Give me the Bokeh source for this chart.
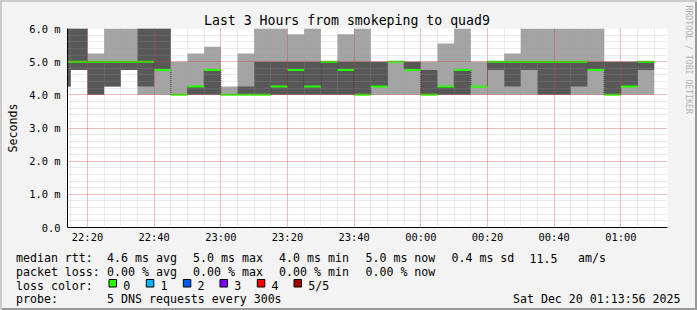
import math
from datetime import datetime, timedelta
from bokeh.plotting import figure
from bokeh.layouts import column, row
from bokeh.models import (Range1d, FixedTicker, CustomJSTickFormatter, Label,
                          ColumnDataSource)
from bokeh.embed import file_html
from bokeh.resources import INLINE

# ---------------- data (ms) ----------------
step_start = ["22:10", "22:15", "22:20", "22:25", "22:30", "22:35", "22:40", "22:45",
              "22:50", "22:55", "23:00", "23:05", "23:10", "23:15", "23:20", "23:25",
              "23:30", "23:35", "23:40", "23:45", "23:50", "23:55", "00:00", "00:05",
              "00:10", "00:15", "00:20", "00:25", "00:30", "00:35", "00:40", "00:45",
              "00:50", "00:55", "01:00", "01:05"]
# sorted pings per step: ping1 = min ... ping3 = median ... ping5 = max
ping1 = [4.25, 4.75, 4.0, 4.25, 4.75, 4.0, 4.0, 4.0, 4.0, 4.0, 4.0, 4.0, 4.0, 4.0, 4.0, 4.0,
         4.0, 4.0, 4.0, 4.0, 4.0, 4.0, 4.0, 4.0, 4.0, 4.0, 4.0, 4.0, 4.0, 4.0, 4.0, 4.0,
         4.0, 4.0, 4.0, 4.0]
ping2 = [4.25, 4.75, 4.0, 4.25, 4.75, 4.25, 4.75, 4.0, 4.0, 4.0, 4.0, 4.0, 4.0, 4.0, 4.0, 4.0,
         4.0, 4.0, 4.0, 4.25, 5.0, 4.75, 4.0, 4.0, 4.0, 4.25, 4.75, 4.25, 4.75, 4.0, 4.0, 4.25,
         4.75, 4.0, 4.25, 4.75]
ping3 = [5.0, 5.0, 5.0, 5.0, 5.0, 5.0, 4.75, 4.0, 4.25, 4.75, 4.0, 4.0, 4.0, 4.25, 4.75, 4.25,
         5.0, 4.75, 4.0, 4.25, 5.0, 4.75, 4.0, 4.25, 4.75, 4.25, 5.0, 5.0, 5.0, 5.0, 5.0, 5.0,
         4.75, 4.0, 4.25, 5.0]
ping4 = [6.0, 6.0, 5.0, 5.0, 5.0, 6.0, 6.0, 4.0, 4.25, 4.75, 4.0, 4.25, 5.0, 5.0, 5.0, 5.0,
         5.0, 5.0, 5.0, 5.0, 5.0, 5.0, 4.75, 4.25, 4.75, 4.25, 5.0, 5.0, 5.0, 5.0, 5.0, 5.0,
         5.0, 5.0, 5.0, 5.0]
ping5 = [6.0, 6.0, 5.25, 6.0, 6.0, 6.0, 6.0, 5.0, 5.25, 5.45, 4.25, 5.25, 6.0, 6.0, 5.83, 6.0,
         5.0, 5.83, 6.0, 5.0, 5.0, 5.0, 5.0, 5.55, 6.0, 5.0, 5.0, 5.25, 6.0, 6.0, 6.0, 6.0,
         6.0, 5.0, 5.0, 5.0]

y_ticks = [0, 1, 2, 3, 4, 5, 6]
x_major = ["22:20", "22:40", "23:00", "23:20", "23:40", "00:00", "00:20", "00:40", "01:00"]

loss_labels = ["0", "1", "2", "3", "4", "5/5"]
loss_colors = ["#26ff00", "#00b8ff", "#0059ff", "#7e00ff", "#ff0000", "#a10000"]

legend_rows = [
    ["median rtt:", "4.6 ms avg", "5.0 ms max", "4.0 ms min", "5.0 ms now", "0.4 ms sd", "11.5", "am/s"],
    ["packet loss:", "0.00 % avg", "0.00 % max", "0.00 % min", "0.00 % now"],
]
probe_text = ["probe:", "5 DNS requests every 300s"]
stamp = "Sat Dec 20 01:13:56 2025"
title_text = "Last 3 Hours from smokeping to quad9"
watermark = "RRDTOOL / TOBI OETIKER"


def t(hm):
    h, m = map(int, hm.split(":"))
    return datetime(2025, 12, 19 if h >= 12 else 20, h, m)


starts = [t(s) for s in step_start]
ends = [s + timedelta(minutes=5) for s in starts]
xs = starts + [ends[-1]]
ext = lambda a: a + [a[-1]]
EPOCH = datetime(1970, 1, 1)
ms = lambda d: (d - EPOCH).total_seconds() * 1000

# ---------------- sizes ----------------
W, H = 697, 310
WM = 680            # width of the main + legend column; the rest is the watermark strip
H1, H2 = 245, 65
MONO = "DejaVu Sans Mono"
BG = "#f3f3f3"

# ---------------- main figure ----------------
p = figure(width=WM, height=H1, output_backend="svg", toolbar_location=None,
           title=title_text, x_axis_type="datetime",
           x_range=Range1d(datetime(2025, 12, 19, 22, 14), datetime(2025, 12, 20, 1, 14)),
           y_range=Range1d(0, 6))
p.min_border_left, p.min_border_right, p.min_border_top, p.min_border_bottom = 67, 13, 28, 17
p.background_fill_color = "white"
p.border_fill_color = None
p.outline_line_color = None

# smoke
p.varea_step(x=xs, y1=ext(ping1), y2=ext(ping5), step_mode="after", fill_color="#a4a4a4")
p.varea_step(x=xs, y1=ext(ping2), y2=ext(ping4), step_mode="after", fill_color="#585858")

# median jumps (dotted) and median line
jumps = [i for i in range(len(ping3) - 1) if ping3[i] != ping3[i + 1]]
jx = [ends[i] for i in jumps]
p.segment(x0=jx, y0=[ping3[i] for i in jumps], x1=jx, y1=[ping3[i + 1] for i in jumps],
          line_color="#202020", line_width=1, line_dash="1 1")
src = ColumnDataSource(dict(left=starts, right=ends, med=ping3))
p.segment(x0="left", x1="right", y0="med", y1="med", source=src,
          line_color=loss_colors[0], line_width=2)

# axes / grid
xt = FixedTicker(ticks=[ms(t(s)) for s in x_major],
                 minor_ticks=[ms(s) for s in starts[1:] + [ends[-1]]])
yt = FixedTicker(ticks=y_ticks, minor_ticks=[round(v * 0.2, 1) for v in range(31)])
p.xaxis.ticker = xt
p.yaxis.ticker = yt
p.xgrid.ticker = xt
p.ygrid.ticker = yt
p.xaxis.formatter = CustomJSTickFormatter(code="""
const d = new Date(tick);
return String(d.getUTCHours()).padStart(2,'0') + ':' + String(d.getUTCMinutes()).padStart(2,'0');""")
p.yaxis.formatter = CustomJSTickFormatter(code="return tick == 0 ? '0.0' : tick.toFixed(1) + ' m';")

for ax in (p.xaxis[0], p.yaxis[0]):
    ax.axis_line_color = "black"
    ax.axis_line_width = 1
    ax.major_tick_out = 0
    ax.major_tick_in = 0
    ax.minor_tick_out = 0
    ax.minor_tick_in = 0
    ax.major_label_text_font = MONO
    ax.major_label_text_font_size = "10.4px"
    ax.major_label_text_color = "black"
p.xaxis.major_label_standoff = 3
p.yaxis.major_label_standoff = 7
p.yaxis.axis_label = "Seconds"
p.yaxis.axis_label_text_font = MONO
p.yaxis.axis_label_text_font_size = "11.6px"
p.yaxis.axis_label_text_font_style = "normal"
p.yaxis.axis_label_text_color = "black"
p.yaxis.axis_label_standoff = 6

for g in (p.xgrid[0], p.ygrid[0]):
    g.level = "guide"
    g.grid_line_color = "#ff0000"
    g.grid_line_alpha = 0.4
    g.grid_line_dash = "1 1"
    g.minor_grid_line_color = "#9a9a9a"
    g.minor_grid_line_alpha = 0.4
    g.minor_grid_line_dash = "1 1"

# title
p.title.align = "left"
p.title.offset = 136.5
p.title.vertical_align = "bottom"
p.title.standoff = 1
p.title.text_font = MONO
p.title.text_font_size = "13.2px"
p.title.text_font_style = "normal"
p.title.text_color = "black"


def strip(width, height, xr, yr):
    f = figure(width=width, height=height, output_backend="svg", toolbar_location=None,
               x_range=Range1d(*xr), y_range=Range1d(*yr),
               x_axis_location=None, y_axis_location=None)
    f.min_border_left = f.min_border_right = f.min_border_top = f.min_border_bottom = 0
    f.background_fill_color = None
    f.border_fill_color = None
    f.outline_line_color = None
    f.grid.visible = False
    return f


# ---------------- legend strip (canvas pixel coordinates) ----------------
q = strip(WM, H2, (0, WM), (H1 + H2, H1))


def lab(fig, text, x, y, align="left", size="11.6px", color="black", angle=0, baseline="alphabetic"):
    fig.add_layout(Label(x=x, y=y, text=text, text_font=MONO, text_font_size=size,
                         text_align=align, text_baseline=baseline, text_color=color, angle=angle))


item_x = [15.5, 106.6, 192.6, 278.6, 365.0, 451.0, 529.0, 577.6]
row_y = [257.5, 271.3, 285.1, 298.9]
for r_, row_items in enumerate(legend_rows):
    for i, txt in enumerate(row_items):
        lab(q, txt, item_x[i], row_y[r_])
lab(q, "loss color:", item_x[0], row_y[2])
box_x = [108.5, 145.8, 182.8, 219.5, 256.8, 293.5]
q.quad(left=box_x, right=[b + 7.5 for b in box_x], top=[279] * 6, bottom=[286.5] * 6,
       fill_color=loss_colors, line_color="black", line_width=1)
for bx, tl in zip(box_x, loss_labels):
    lab(q, tl, bx + 14.3, row_y[2])
lab(q, probe_text[0], item_x[0], row_y[3])
lab(q, probe_text[1], item_x[1], row_y[3])
lab(q, stamp, 680.0, row_y[3], align="right")

# ---------------- watermark strip ----------------
r = strip(W - WM, H, (WM, W), (H, 0))
lab(r, watermark, 688.3, 5, size="8.2px", color="#b0b0b0", angle=-math.pi / 2, baseline="middle")

for fig in (p, q, r):
    try:
        fig.frame_align = False
    except Exception:
        pass

layout = row(column(p, q, spacing=0), r, spacing=0, styles={
    "background-color": BG,
    "box-shadow": "inset 2px 2px 0 #cbcbcb, inset -2px -2px 0 #999999",
})

open("out.html", "w").write(file_html(layout, INLINE))
